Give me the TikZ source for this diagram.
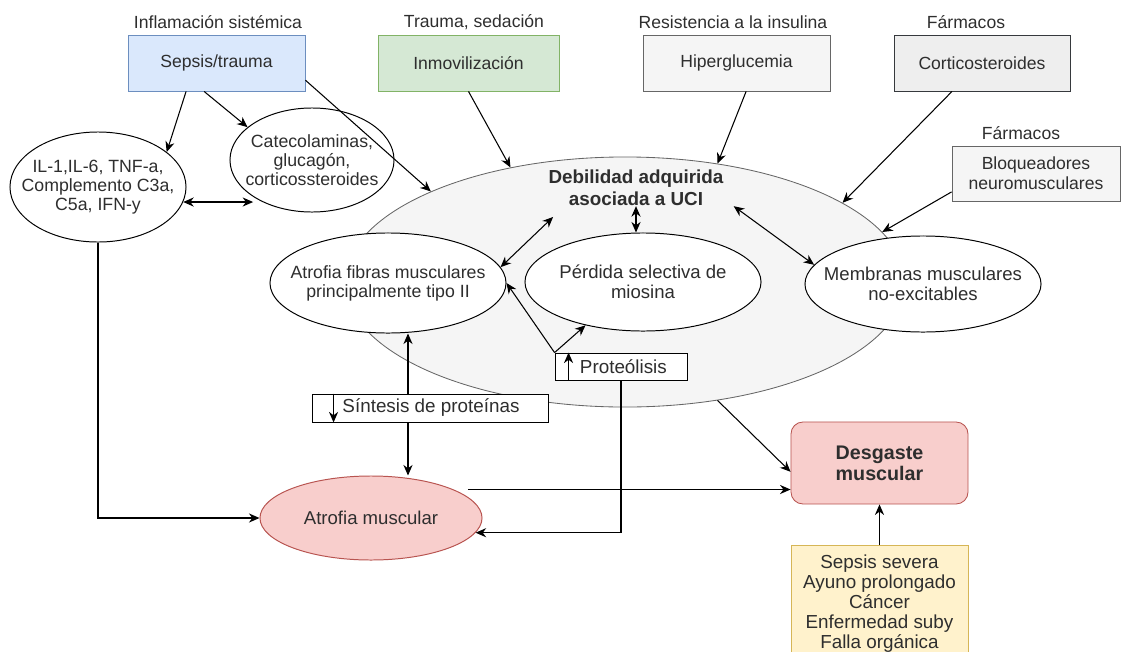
\documentclass[tikz,border=0pt]{standalone}
\usepackage{fontspec}
\setmainfont{Liberation Sans}
\usetikzlibrary{shapes.geometric,arrows.meta}

\begin{document}
\begin{tikzpicture}[x=0.025cm, y=-0.025cm,
    every node/.style={text=black!82},
    box/.style={draw, rectangle, minimum height=1.4cm, inner sep=0pt, line width=0.6pt, font=\fontsize{12.5}{14}\selectfont},
    oval/.style={draw, ellipse, fill=white, inner xsep=-0.5cm, inner ysep=0pt, align=center, line width=0.7pt, font=\fontsize{12.6}{13.6}\selectfont},
    tag/.style={font=\fontsize{12.5}{14}\selectfont},
    bar/.style={draw, rectangle, fill=white, inner sep=0pt, line width=0.6pt, font=\fontsize{13.4}{15}\selectfont},
    arr/.style={-{Stealth[length=7.5pt,width=6.5pt]}, line width=0.75pt},
    dblarr/.style={{Stealth[length=7.5pt,width=6.5pt]}-{Stealth[length=7.5pt,width=6.5pt]}, line width=0.75pt}]
    % Define colours
    \definecolor{blueFill}{HTML}{DAE8FC}
    \definecolor{blueLine}{HTML}{6C8EBF}
    \definecolor{greenFill}{HTML}{D5E8D4}
    \definecolor{greenLine}{HTML}{82B366}
    \definecolor{greyFill}{HTML}{F5F5F5}
    \definecolor{greyLine}{HTML}{666666}
    \definecolor{darkFill}{HTML}{EEEEEE}
    \definecolor{darkLine}{HTML}{36393D}
    \definecolor{redFill}{HTML}{F8CECC}
    \definecolor{redLine}{HTML}{B85450}
    \definecolor{yellowFill}{HTML}{FFF2CC}
    \definecolor{yellowLine}{HTML}{D6B656}

    % Fix the page size
    \useasboundingbox (0,0) rectangle (1121,652);
    \clip (0,0) rectangle (1121,652);

    % Big ellipse behind everything
    \node[ellipse, draw=greyLine, fill=greyFill, line width=0.6pt, minimum width=14cm, minimum height=6.25cm, inner sep=0pt] (debilidad) at (625,282) {};
    \node[font=\fontsize{13.4}{15.6}\selectfont\bfseries, align=center, inner sep=0pt] (uci) at (636,188) {Debilidad adquirida\\asociada a UCI};

    % Causes on top
    \node[tag] (inflamacion) at (218,22) {Inflamación sistémica};
    \node[tag] (trauma) at (474,22) {Trauma, sedación};
    \node[tag] (resistencia) at (733,22) {Resistencia a la insulina};
    \node[tag] (farmacosA) at (966,22) {Fármacos};
    \node[tag] (farmacosB) at (1021,133) {Fármacos};

    \node[box, fill=blueFill, draw=blueLine, minimum width=4.425cm] (sepsis) at (216.5,63) {Sepsis/trauma};
    \node[box, fill=greenFill, draw=greenLine, minimum width=4.525cm] (inmov) at (468.5,63) {Inmovilización};
    \node[box, fill=greyFill, draw=greyLine, minimum width=4.675cm] (hiper) at (736.5,63) {Hiperglucemia};
    \node[box, fill=darkFill, draw=darkLine, minimum width=4.4cm] (cortico) at (982,63) {Corticosteroides};
    \node[box, fill=greyFill, draw=greyLine, minimum width=4.2cm, minimum height=1.375cm, align=center] (bloq) at (1036,173.5) {Bloqueadores\\neuromusculares};

    % Mediators
    \node[oval, minimum width=4.4cm, minimum height=2.75cm] (il) at (98,187) {IL-1,IL-6, TNF-a,\\Complemento C3a,\\C5a, IFN-y};
    \node[oval, minimum width=4.1cm, minimum height=2.6cm] (catecol) at (312,160) {Catecolaminas,\\glucagón,\\corticossteroides};

    % Inner ellipses
    \node[oval, minimum width=5.9cm, minimum height=2.5cm] (fibras) at (388,283) {Atrofia fibras musculares\\principalmente tipo II};
    \node[oval, minimum width=5.9cm, minimum height=2.45cm, font=\fontsize{13.2}{14.5}\selectfont] (perdida) at (643,282) {Pérdida selectiva de\\miosina};
    \node[oval, minimum width=5.9cm, minimum height=2.4cm, font=\fontsize{13.2}{14.5}\selectfont] (membranas) at (923,284) {Membranas musculares\\no-excitables};

    % Protein balance
    \node[bar, minimum width=3.3cm, minimum height=0.675cm] (proteo) at (621,366.5) {\hspace{0.12cm}Proteólisis};
    \node[bar, minimum width=5.9cm, minimum height=0.7cm] (sintesis) at (430,408) {\hspace{0.05cm}Síntesis de proteínas};

    % Outcomes
    \node[oval, fill=redFill, draw=redLine, minimum width=5.55cm, minimum height=2.1cm, font=\fontsize{13.2}{14.5}\selectfont] (atrofia) at (371,518) {Atrofia muscular};
    \node[draw=redLine, fill=redFill, rounded corners=0.3cm, line width=0.6pt, minimum width=4.425cm, minimum height=2.05cm, align=center, font=\fontsize{14}{15}\selectfont\bfseries] (desgaste) at (879.5,463) {Desgaste\\muscular};
    \node[draw=yellowLine, fill=yellowFill, line width=0.6pt, anchor=north, minimum width=4.425cm, inner ysep=6.5pt, align=center, font=\fontsize{13.4}{14.2}\selectfont] (causas) at (879.5,545) {Sepsis severa\\Ayuno prolongado\\Cáncer\\Enfermedad suby\\Falla orgánica\\~};

    % Arrows from the top
    \draw[arr] ([xshift=-0.76cm]sepsis.south) -- (il.27);
    \draw[arr] ([xshift=-0.31cm]sepsis.south) -- (catecol.153);
    \draw[arr] ([yshift=-0.43cm]sepsis.east) -- (debilidad.155);
    \draw[arr] (inmov.south) -- (debilidad.135);
    \draw[arr] ([xshift=0.24cm]hiper.south) -- (debilidad.52);
    \draw[arr] ([xshift=-0.75cm]cortico.south) -- (debilidad.20);
    \draw[arr] ([yshift=-0.46cm]bloq.west) -- (debilidad.11);
    \draw[dblarr] (il.-10) -- (il.-10 -| catecol.-148);

    % Arrows inside the big ellipse
    \draw[dblarr] (fibras.8) -- ([shift={(0.12cm,-0.27cm)}]uci.south west);
    \draw[dblarr] (uci.south) -- (uci.south |- perdida.north);
    \draw[dblarr] ([xshift=0.25cm]uci.south east) -- (membranas.170);
    \draw[arr] (proteo.north west) -- (fibras.east);
    \draw[arr] (proteo.north west) -- (perdida.-143);
    \draw[arr] ([xshift=0.35cm]proteo.south west) -- ([xshift=0.35cm]proteo.north west);
    \draw[arr] ([xshift=0.55cm]sintesis.north west) -- ([xshift=0.55cm]sintesis.south west);

    % Protein synthesis and breakdown
    \coordinate (sint) at ([xshift=-0.55cm]sintesis.north);
    \coordinate (sinb) at ([xshift=-0.55cm]sintesis.south);
    \draw[arr] (sint) -- (sint |- fibras.south);
    \draw[arr] (sinb) -- (sinb |- atrofia.north);
    \draw[arr] (proteo.south) |- (atrofia.-8);
    \draw[arr] (il.south) |- (atrofia.west);

    % Towards muscle wasting
    \draw[arr, shorten <=0.35cm] (atrofia.19) -- (atrofia.19 -| desgaste.west);
    \draw[arr] (debilidad.-52) -- ([yshift=-0.22cm]desgaste.west);
    \draw[arr] (causas.north) -- (desgaste.south);

\end{tikzpicture}
\end{document}
